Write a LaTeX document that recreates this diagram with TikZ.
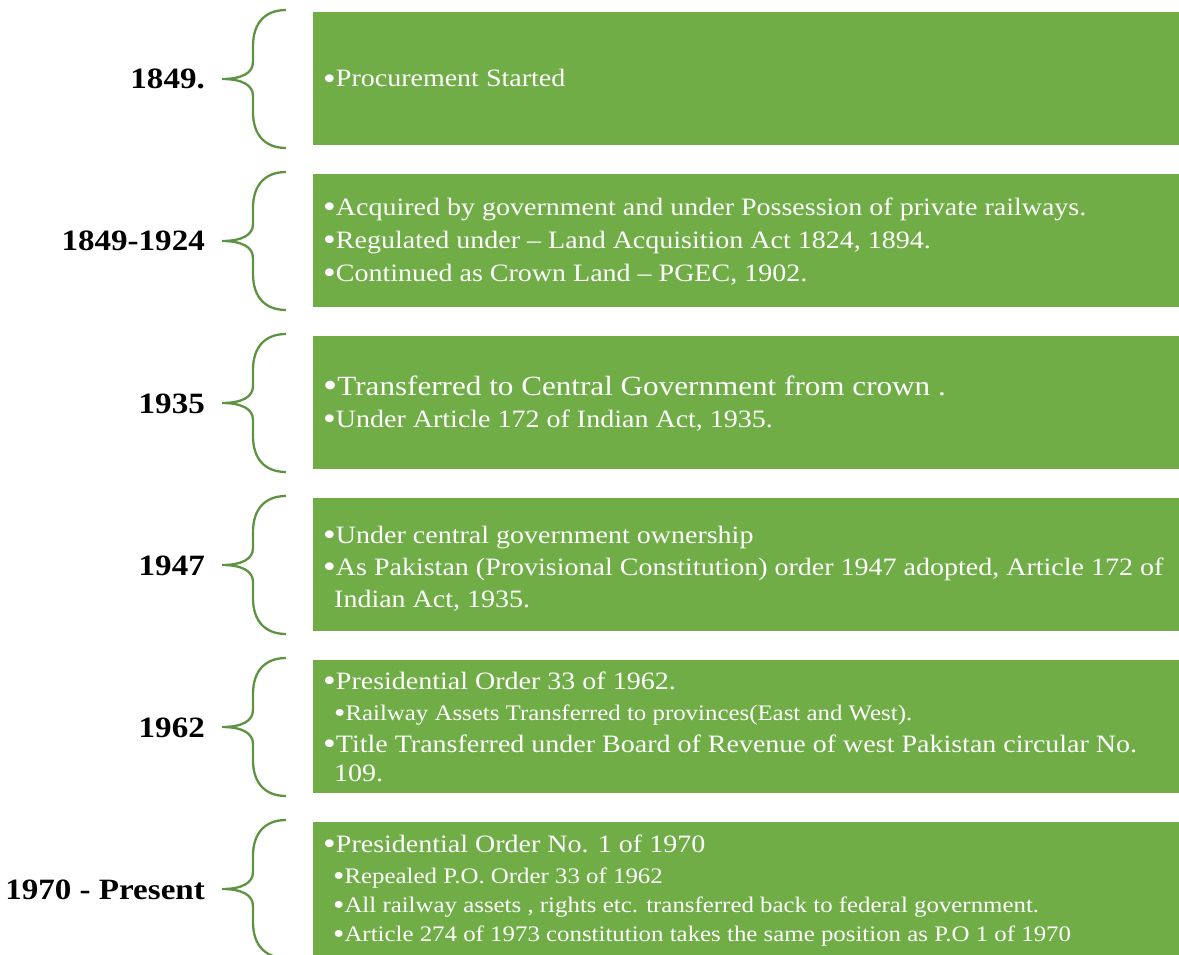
\documentclass[tikz,border=0pt]{standalone}
\usepackage{fontspec}
\usepackage{graphicx}
\setmainfont{Liberation Serif}[FakeStretch=1.12]
\definecolor{boxgreen}{HTML}{70AD47}
\definecolor{bracegreen}{HTML}{5E9441}
\newcommand{\bul}{\raisebox{-0.09em}{\scalebox{1.3}{•}}}
\newcommand{\bracepath}[1]{%
  \draw[bracebar] (286,#1-2) .. controls (266,#1-2) and (253,#1+10) .. (253,#1+34)
    -- (253,#1+50) .. controls (253,#1+61) and (242,#1+67) .. (222,#1+67)
    .. controls (242,#1+67) and (253,#1+73) .. (253,#1+84)
    -- (253,#1+100) .. controls (253,#1+124) and (266,#1+136) .. (286,#1+136);}
\begin{document}
\begin{tikzpicture}[x=1pt,y=-1pt,
  greenbox/.style={fill=boxgreen,draw=none,minimum width=866pt,minimum height=133pt,anchor=north west,inner sep=0pt},
  bracebar/.style={draw=bracegreen,line width=2.3pt},
  yearlabel/.style={anchor=base east,inner sep=0pt,font=\fontsize{29.5}{34}\selectfont\bfseries},
  txt/.style={anchor=base west,inner sep=0pt,text=white,font=\fontsize{25}{30}\selectfont},
  bigtxt/.style={txt,font=\fontsize{27.8}{34}\selectfont},
  subtxt/.style={txt,font=\fontsize{22.2}{26}\selectfont}]
\useasboundingbox (0,0) rectangle (1179,955);
% boxes
\node[greenbox] (b1) at (313,12) {};
\node[greenbox] (b2) at (313,174) {};
\node[greenbox] (b3) at (313,336) {};
\node[greenbox] (b4) at (313,498) {};
\node[greenbox] (b5) at (313,660) {};
\node[greenbox] (b6) at (313,822) {};
% braces
\bracepath{12}
\bracepath{174}
\bracepath{336}
\bracepath{498}
\bracepath{660}
\bracepath{822}
% labels
\node[yearlabel] (l1) at (205,89) {1849.};
\node[yearlabel] (l2) at (205,251) {1849-1924};
\node[yearlabel] (l3) at (205,413) {1935};
\node[yearlabel] (l4) at (205,575) {1947};
\node[yearlabel] (l5) at (205,737) {1962};
\node[yearlabel] (l6) at (205,899) {1970 - Present};
% box 1
\node[txt] (t1a) at (323,87) {\bul Procurement Started};
% box 2
\node[txt] (t2a) at (323,215) {\bul Acquired by government and under Possession of private railways.};
\node[txt] (t2b) at (323,248) {\bul Regulated under – Land Acquisition Act 1824, 1894.};
\node[txt] (t2c) at (323,281) {\bul Continued as Crown Land – PGEC, 1902.};
% box 3
\node[bigtxt] (t3a) at (323,395) {\bul Transferred to Central Government from crown .};
\node[txt] (t3b) at (323,427) {\bul Under Article 172 of Indian Act, 1935.};
% box 4
\node[txt] (t4a) at (323,543) {\bul Under central government ownership};
\node[txt] (t4b) at (323,575) {\bul As Pakistan (Provisional Constitution) order 1947 adopted, Article 172 of};
\node[txt] (t4c) at (334,607) {Indian Act, 1935.};
% box 5
\node[txt] (t5a) at (323,689) {\bul Presidential Order 33 of 1962.};
\node[subtxt] (t5b) at (334,720) {\bul Railway Assets Transferred to provinces(East and West).};
\node[txt] (t5c) at (323,752) {\bul Title Transferred under Board of Revenue of west Pakistan circular No.};
\node[txt] (t5d) at (334,781) {109.};
% box 6
\node[txt] (t6a) at (323,852) {\bul Presidential Order No. 1 of 1970};
\node[subtxt] (t6b) at (333,883) {\bul Repealed P.O. Order 33 of 1962};
\node[subtxt] (t6c) at (333,912) {\bul All railway assets , rights etc. transferred back to federal government.};
\node[subtxt] (t6d) at (333,941) {\bul Article 274 of 1973 constitution takes the same position as P.O 1 of 1970};
\end{tikzpicture}
\end{document}
